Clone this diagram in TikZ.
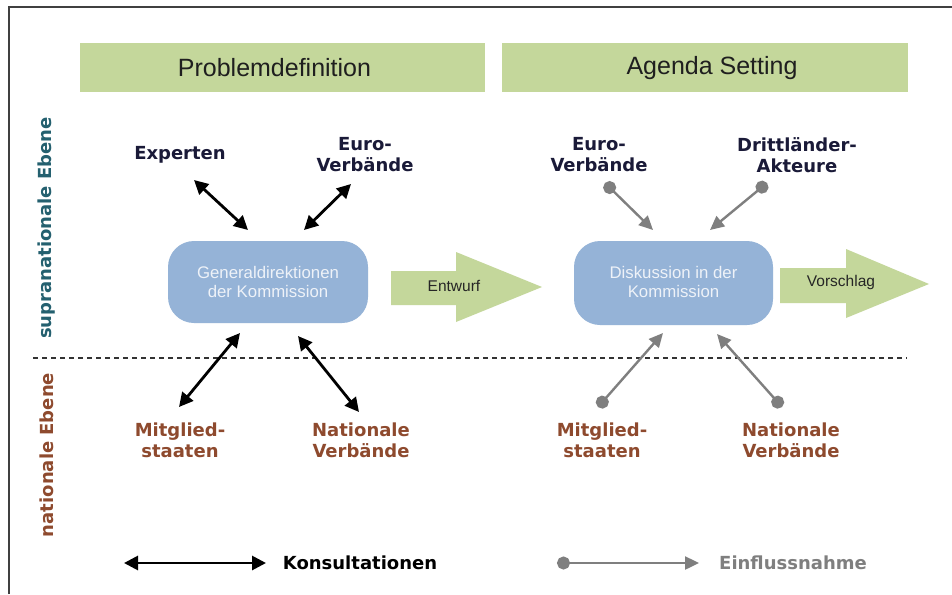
\documentclass[tikz,border=0pt]{standalone}
\usepackage{fontspec}
\setmainfont{Liberation Sans}
\newfontfamily\vd{DejaVu Sans}
\usetikzlibrary{arrows.meta}
\definecolor{hdrgreen}{HTML}{C4D79B}
\definecolor{boxblue}{HTML}{95B3D7}
\definecolor{navylbl}{HTML}{1A1A38}
\definecolor{brownlbl}{HTML}{8E4A2E}
\definecolor{tealtxt}{HTML}{24606F}
\definecolor{grayarr}{HTML}{7F7F7F}
\definecolor{boxtxt}{HTML}{EEF2F8}
\tikzset{
  hdrbox/.style={fill=hdrgreen, draw=none, inner sep=0pt},
  hdrtext/.style={font=\fontsize{25}{28}\selectfont, text=black!88, inner sep=0pt},
  bluebox/.style={fill=boxblue, draw=none, rounded corners=26pt, inner sep=0pt},
  boxtext/.style={font=\fontsize{16.8}{19}\selectfont, text=boxtxt, align=center, inner sep=0pt},
  toplbl/.style={font=\vd\bfseries\fontsize{18}{21}\selectfont, text=navylbl, align=center, inner sep=0pt},
  botlbl/.style={font=\vd\bfseries\fontsize{18}{21}\selectfont, text=brownlbl, align=center, inner sep=0pt},
  sidelbl/.style={font=\vd\bfseries\fontsize{18}{21}\selectfont, rotate=90, inner sep=0pt},
  arrtext/.style={font=\fontsize{15.5}{18}\selectfont, text=black!85, inner sep=0pt},
  consult/.style={line width=2.8pt, black, {Triangle[length=14pt,width=14pt]}-{Triangle[length=14pt,width=14pt]}},
  influence/.style={line width=2.4pt, grayarr, {Circle[length=13pt]}-{Triangle[length=14pt,width=13pt]}},
}
\begin{document}
\begin{tikzpicture}[x=1pt,y=-1pt]
\useasboundingbox (0,0) rectangle (952,594);
\fill[white] (0,0) rectangle (952,594);
% frame
\draw[line width=1.5pt, black!75] (9,594) -- (9,7) -- (952,7);

% headers
\node[hdrbox, minimum width=405pt, minimum height=49pt] (h1) at (282.5,67.5) {};
\node[hdrbox, minimum width=406pt, minimum height=49pt] (h2) at (705,67.5) {};
\node[hdrtext] (t1) at (274.5,68) {Problemdefinition};
\node[hdrtext] (t2) at (712,68) {Agenda Setting};

% side labels
\node[sidelbl, text=tealtxt] (supra) at (47,228) {supranationale Ebene};
\node[sidelbl, text=brownlbl] (nat) at (47,455) {nationale Ebene};

% dashed separator
\coordinate (dl) at (33,358);
\coordinate (dr) at (907,358);
\draw[line width=1.2pt, black!80, dash pattern=on 5pt off 4pt] (dl) -- (dr);

% blue boxes
\node[bluebox, minimum width=200pt, minimum height=82pt] (gd) at (268,282) {};
\node[boxtext] (gdt) at (268,282) {Generaldirektionen\\der Kommission};
\node[bluebox, minimum width=199pt, minimum height=84pt] (dk) at (673.5,283) {};
\node[boxtext] (dkt) at (673.5,282) {Diskussion in der\\Kommission};

% green process arrows
\fill[hdrgreen] (391,271) -- (456,271) -- (456,252) -- (542,287) -- (456,322) -- (456,305) -- (391,305) -- cycle;
\node[arrtext] (entw) at (454,286) {Entwurf};
\fill[hdrgreen] (780,268) -- (846,268) -- (846,249) -- (929,284) -- (846,318) -- (846,303) -- (780,303) -- cycle;
\node[arrtext] (vors) at (841,282) {Vorschlag};

% actor labels
\node[toplbl] (exp) at (180,155) {Experten};
\node[toplbl] (eur1) at (365,155) {Euro-\\Verbände};
\node[toplbl] (eur2) at (599,155) {Euro-\\Verbände};
\node[toplbl] (dritt) at (797,155) {Drittländer-\\Akteure};
\node[botlbl] (mit1) at (180,440) {Mitglied-\\staaten};
\node[botlbl] (nat1) at (361,440) {Nationale\\Verbände};
\node[botlbl] (mit2) at (602,440) {Mitglied-\\staaten};
\node[botlbl] (nat2) at (791,440) {Nationale\\Verbände};

% arrow end points
\coordinate (a1s) at (194,180); \coordinate (a1e) at (248,230);
\coordinate (a2s) at (351,184); \coordinate (a2e) at (304,230);
\coordinate (a3s) at (240,333); \coordinate (a3e) at (179,407);
\coordinate (a4s) at (298,336); \coordinate (a4e) at (359,412);
\coordinate (b1s) at (605,183); \coordinate (b1e) at (653,230);
\coordinate (b2s) at (767,183); \coordinate (b2e) at (710,230);
\coordinate (b3s) at (598,407); \coordinate (b3e) at (663,333);
\coordinate (b4s) at (782,407); \coordinate (b4e) at (717,334);

\draw[consult] (a1s) -- (a1e);
\draw[consult] (a2s) -- (a2e);
\draw[consult] (a3s) -- (a3e);
\draw[consult] (a4s) -- (a4e);
\draw[influence] (b1s) -- (b1e);
\draw[influence] (b2s) -- (b2e);
\draw[influence] (b3s) -- (b3e);
\draw[influence] (b4s) -- (b4e);

% legend
\coordinate (l1s) at (124,563); \coordinate (l1e) at (266,563);
\draw[consult] (l1s) -- (l1e);
\node[toplbl, text=black] (kons) at (360,563) {Konsultationen};
\coordinate (l2s) at (557,563); \coordinate (l2e) at (699,563);
\draw[influence] (l2s) -- (l2e);
\node[toplbl, text=grayarr] (einf) at (793,563) {Einflussnahme};
\end{tikzpicture}
\end{document}
